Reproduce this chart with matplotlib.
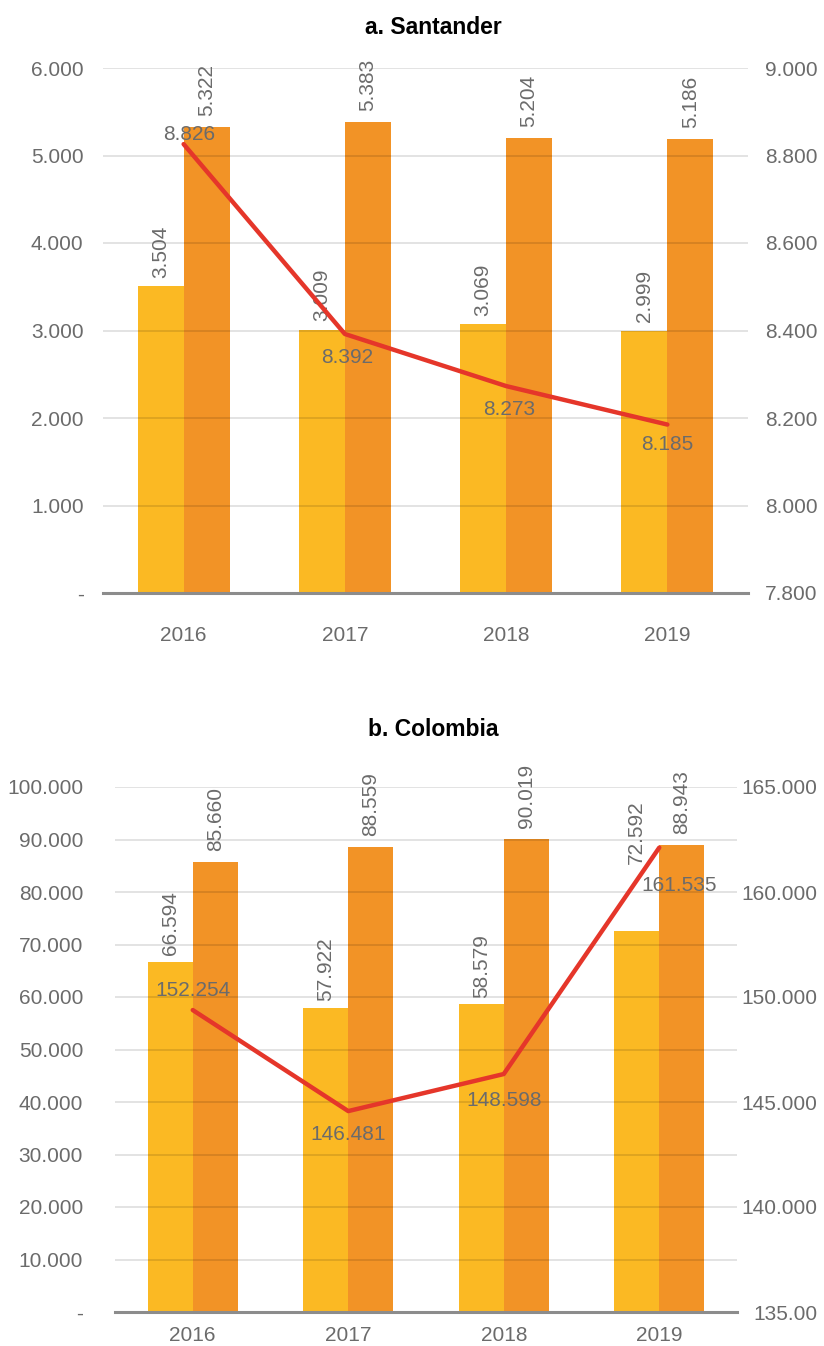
import numpy as np
import matplotlib.pyplot as plt

plt.rcParams['font.family'] = ['Liberation Sans', 'DejaVu Sans']

# datos
years = ["2016", "2017", "2018", "2019"]

sant_yellow = [3.504, 3.009, 3.069, 2.999]
sant_orange = [5.322, 5.383, 5.204, 5.186]
sant_line = [8.826, 8.392, 8.273, 8.185]

col_yellow = [66.594, 57.922, 58.579, 72.592]
col_orange = [85.660, 88.559, 90.019, 88.943]
col_line = [152.254, 146.481, 148.598, 161.535]

sant_left_ticks = [0, 1, 2, 3, 4, 5, 6]
sant_left_labels = ["-", "1.000", "2.000", "3.000", "4.000", "5.000", "6.000"]
sant_right_ticks = [7.8, 8.0, 8.2, 8.4, 8.6, 8.8, 9.0]
sant_right_labels = ["7.800", "8.000", "8.200", "8.400", "8.600", "8.800", "9.000"]

col_left_ticks = [0, 10, 20, 30, 40, 50, 60, 70, 80, 90, 100]
col_left_labels = ["-", "10.000", "20.000", "30.000", "40.000", "50.000",
                   "60.000", "70.000", "80.000", "90.000", "100.000"]
col_right_ticks = [135, 141, 147, 153, 159, 165]
col_right_labels = ["135.00", "140.000", "145.000", "150.000", "160.000", "165.000"]

YELLOW = "#FBB923"
ORANGE = "#F29326"
RED = "#E5362A"
GRAY = "#6b6b6b"
FS = 15

W, H = 824, 1346
fig = plt.figure(figsize=(W / 100, H / 100), dpi=100)


def make_panel(rect, title, title_y, yel, ora, line, lt, ll, rt, rl,
               ylim, rlim, bar_off, line_off, xpad, lpad, rpad, bw):
    x0, y0, x1, y1 = rect
    ax = fig.add_axes([x0 / W, 1 - y1 / H, (x1 - x0) / W, (y1 - y0) / H])
    x = np.arange(len(years))
    b1 = ax.bar(x - bw / 2, yel, bw, color=YELLOW, zorder=2)
    b2 = ax.bar(x + bw / 2, ora, bw, color=ORANGE, zorder=2)
    ax.set_xlim(-0.5, len(years) - 0.5)
    ax.set_ylim(*ylim)
    ax.set_yticks(lt)
    ax.set_yticklabels(ll)
    ax.set_xticks(x)
    ax.set_xticklabels(years)
    ax.tick_params(axis='y', length=0, pad=lpad, labelsize=FS, labelcolor=GRAY)
    ax.tick_params(axis='x', length=0, pad=xpad, labelsize=FS, labelcolor=GRAY)
    ax.grid(axis='y', color='black', alpha=0.12, linewidth=1.3, zorder=3)
    ax.set_axisbelow(False)
    for s in ["top", "right", "left"]:
        ax.spines[s].set_visible(False)
    ax.spines["bottom"].set_color("#8c8c8c")
    ax.spines["bottom"].set_linewidth(2.2)
    ax.spines["bottom"].set_zorder(4)

    for i, r in enumerate(b1):
        ax.annotate(f"{yel[i]:.3f}", (r.get_x() + r.get_width() / 2, r.get_height()),
                    xytext=(0, bar_off[i]), textcoords="offset points",
                    rotation=90, ha="center", va="bottom", fontsize=FS, color=GRAY)
    for i, r in enumerate(b2):
        ax.annotate(f"{ora[i]:.3f}", (r.get_x() + r.get_width() / 2, r.get_height()),
                    xytext=(0, 8), textcoords="offset points",
                    rotation=90, ha="center", va="bottom", fontsize=FS, color=GRAY)

    ax2 = ax.twinx()
    ax2.plot(x, line, color=RED, linewidth=3.2, zorder=5, solid_capstyle="round")
    ax2.set_ylim(*rlim)
    ax2.set_yticks(rt)
    ax2.set_yticklabels(rl, ha="right")
    ax2.tick_params(axis='y', length=0, pad=rpad, labelsize=FS, labelcolor=GRAY)
    for s in ax2.spines.values():
        s.set_visible(False)
    for i, v in enumerate(line):
        ax2.annotate(f"{v:.3f}", (x[i], v), xytext=line_off[i], textcoords="offset points",
                     ha="center", va="center", fontsize=FS, color=GRAY, zorder=6)

    fig.text(433 / W, 1 - title_y / H, title, ha="center", va="center",
             fontsize=16.5, fontweight="bold", color="black")
    return ax


make_panel((103, 68, 748, 593), "a. Santander", 27,
           sant_yellow, sant_orange, sant_line,
           sant_left_ticks, sant_left_labels, sant_right_ticks, sant_right_labels,
           (0, 6), (7.8, 9.0),
           [6, 6, 6, 6],
           [(4, 7), (2, -17), (2, -17), (0, -14)],
           xpad=24, lpad=14, rpad=50, bw=0.285)

make_panel((115, 787, 737, 1312), "b. Colombia", 730,
           col_yellow, col_orange, col_line,
           col_left_ticks, col_left_labels, col_right_ticks, col_right_labels,
           (0, 100), (135, 165),
           [5, 5, 5, 48],
           [(0, 14), (0, -17), (0, -19), (14, -27)],
           xpad=10, lpad=23, rpad=58, bw=0.29)

fig.savefig("out.png", dpi=100)
